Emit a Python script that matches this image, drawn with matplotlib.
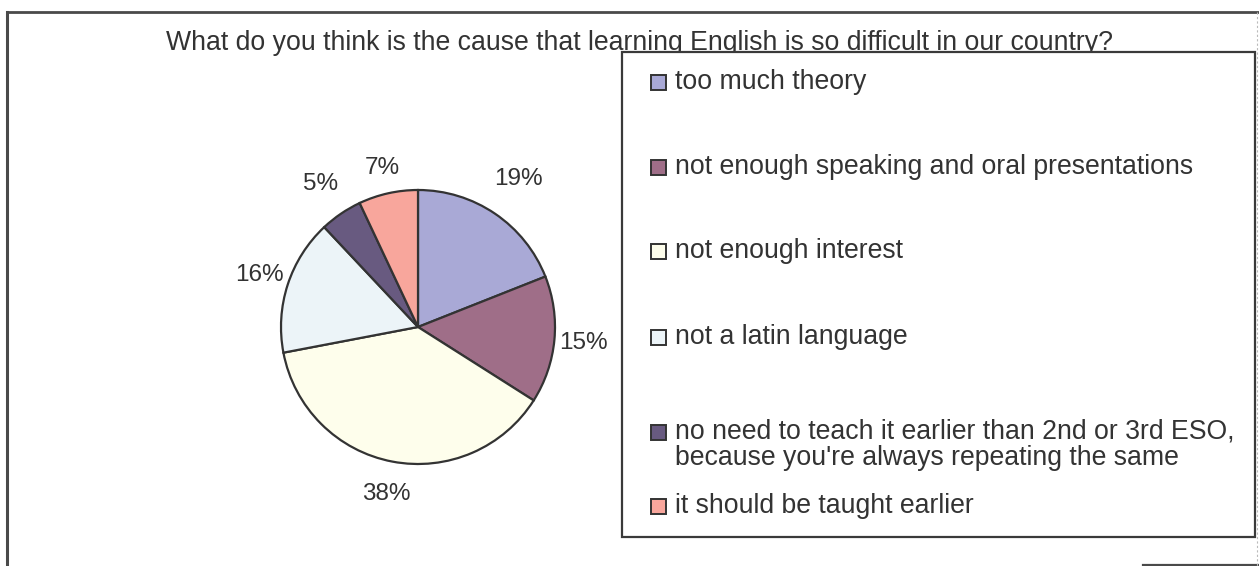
import numpy as np
import matplotlib
matplotlib.use("Agg")
import matplotlib.pyplot as plt
from matplotlib.patches import Rectangle
from matplotlib.lines import Line2D

# Survey answers
categories = [
    "too much theory",
    "not enough speaking and oral presentations",
    "not enough interest",
    "not a latin language",
    "no need to teach it earlier than 2nd or 3rd ESO,\nbecause you're always repeating the same",
    "it should be taught earlier",
]
shares = [19, 15, 38, 16, 5, 7]
colors = ["#A9A9D6", "#9F6E88", "#FEFEEC", "#ECF4F8", "#685A80", "#F8A69C"]
title = "What do you think is the cause that learning English is so difficult in our country?"

W, H = 1259, 566
DPI = 100
fig = plt.figure(figsize=(W / DPI, H / DPI), dpi=DPI)
plt.rcParams["font.family"] = ["Liberation Sans", "DejaVu Sans"]
TXT = "#333333"
FS = 19.2
FS_PCT = 17.5


def fx(px):
    return px / W


def fy(py):
    return 1 - py / H


# outer chart frame
frame_col = "#4a4a4a"
fig.add_artist(Line2D([fx(7), fx(7)], [fy(12), fy(566)], color=frame_col, lw=2.2))
fig.add_artist(Line2D([fx(7), fx(1259)], [fy(12), fy(12)], color=frame_col, lw=2.0))
fig.add_artist(Line2D([fx(1143), fx(1259)], [fy(565), fy(565)], color=frame_col, lw=1.6))
fig.add_artist(Line2D([fx(1257), fx(1257)], [fy(12), fy(566)], color="#bbbbbb", lw=0.8,
                      linestyle=(0, (2, 2))))

# title
fig.text(fx(640), fy(50), title, ha="center", va="baseline", fontsize=FS, color=TXT)

# pie
cx, cy, r = 418, 327, 137
ax = fig.add_axes([fx(cx - r), fy(cy + r), (2 * r) / W, (2 * r) / H])
wedges, _, pct_texts = ax.pie(
    shares, colors=colors, startangle=90, counterclock=False,
    autopct=lambda p: f"{p:.0f}%", pctdistance=1.22,
    wedgeprops=dict(edgecolor="#333333", linewidth=1.6),
    textprops=dict(fontsize=FS_PCT, color=TXT))
# percentage labels sit just outside the rim, a little further out on diagonals
label_dist = [1.31, 1.21, 1.24, 1.22, 1.26, 1.19]
for w, t, d in zip(wedges, pct_texts, label_dist):
    ang = np.deg2rad((w.theta1 + w.theta2) / 2)
    t.set_position((d * np.cos(ang), d * np.sin(ang)))
    t.set_ha("center")
    t.set_va("center")
ax.set_xlim(-1, 1)
ax.set_ylim(-1, 1)
ax.set_aspect("equal")
ax.axis("off")

# legend box (drawn over the title)
lx0, ly0, lx1, ly1 = 622, 52, 1255, 537
fig.add_artist(Rectangle((fx(lx0), fy(ly1)), fx(lx1) - fx(lx0), fy(ly0) - fy(ly1),
                         facecolor="white", edgecolor="#3a3a3a", lw=1.6, zorder=5))
entry_y = [82, 167, 251, 337, 432, 506]
line_step = 26
msz = 15
for label, col, yy in zip(categories, colors, entry_y):
    fig.add_artist(Rectangle((fx(651), fy(yy + msz / 2)), msz / W, msz / H,
                             facecolor=col, edgecolor="#333333", lw=1.4, zorder=6))
    for k, line in enumerate(label.split("\n")):
        fig.text(fx(675), fy(yy + k * line_step), line, ha="left", va="center",
                 fontsize=FS, color=TXT, zorder=7)

fig.savefig("out.png", dpi=DPI)
